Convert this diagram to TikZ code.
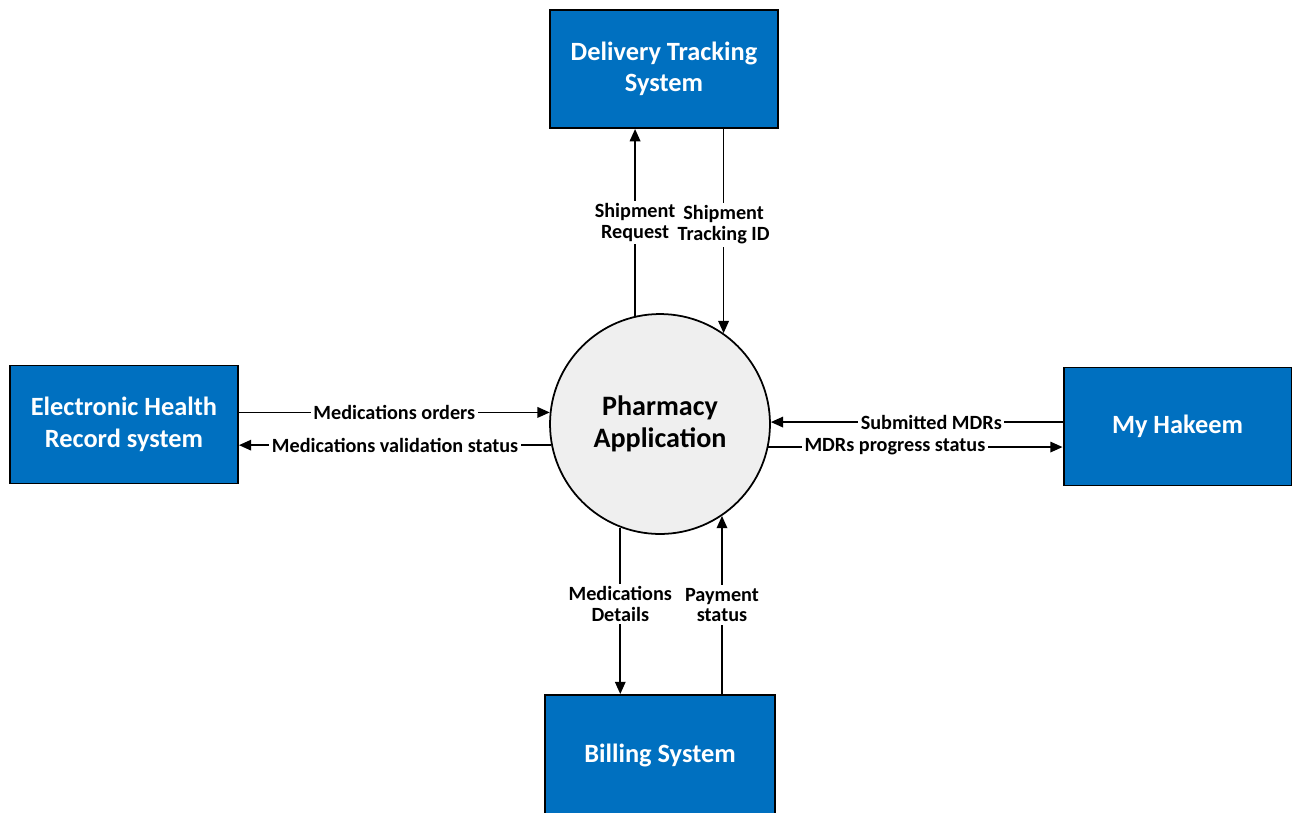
\documentclass[tikz,border=0pt]{standalone}
\usepackage{fontspec}
\setmainfont{Carlito}
\usetikzlibrary{arrows.meta}
\definecolor{boxblue}{HTML}{0070C0}
\definecolor{circfill}{HTML}{EFEFEF}
\begin{document}
\begin{tikzpicture}[x=0.02cm,y=-0.02cm,
 ext/.style={draw=black, line width=1.1pt, fill=boxblue, minimum width=4.56cm, minimum height=2.36cm, align=center, text=white, font=\fontsize{15}{18}\selectfont\bfseries, inner sep=0pt},
 proc/.style={circle, draw=black, line width=1pt, fill=circfill, minimum size=4.4cm, inner sep=0pt, align=center, font=\fontsize{16}{18.5}\selectfont\bfseries},
 flow/.style={line width=1pt, -{Triangle[length=7pt,width=6pt]}},
 lbl/.style={fill=white, inner sep=1.5pt, font=\fontsize{11.5}{11.8}\selectfont\bfseries, align=center}
]
\useasboundingbox (0,0) rectangle (1295,812);
\node[proc] (pa) at (660,424) {Pharmacy\\Application};
\node[ext] (dts) at (664,69) {Delivery Tracking\\System};
\node[ext] (ehr) at (124,424.5) {Electronic Health\\Record system};
\node[ext] (mh) at (1177.5,426.5) {My Hakeem};
\node[ext, minimum width=4.6cm, minimum height=2.4cm] (bill) at (660,755) {Billing System};

\draw[flow] (pa.103) -- (pa.103 |- dts.south) node[lbl,pos=0.5] {Shipment\\Request};
\draw[flow] (dts.south -| pa.55) -- (pa.55) node[lbl,pos=0.47] {Shipment\\Tracking ID};
\draw[flow] (ehr.east |- pa.174) -- (pa.174) node[lbl,midway] {Medications orders};
\draw[flow] (pa.191) -- (pa.191 -| ehr.east) node[lbl,midway] {Medications validation status};
\draw[flow] (mh.west |- pa.1) -- (pa.1) node[lbl,pos=0.45] {Submitted MDRs};
\draw[flow] (pa.348) -- (pa.348 -| mh.west) node[lbl,pos=0.43] {MDRs progress status};
\draw[flow] (pa.249) -- (pa.249 |- bill.north) node[lbl,pos=0.46] {Medications\\Details};
\draw[flow] (bill.north -| pa.304) -- (pa.304) node[lbl,midway] {Payment\\status};
\end{tikzpicture}
\end{document}
